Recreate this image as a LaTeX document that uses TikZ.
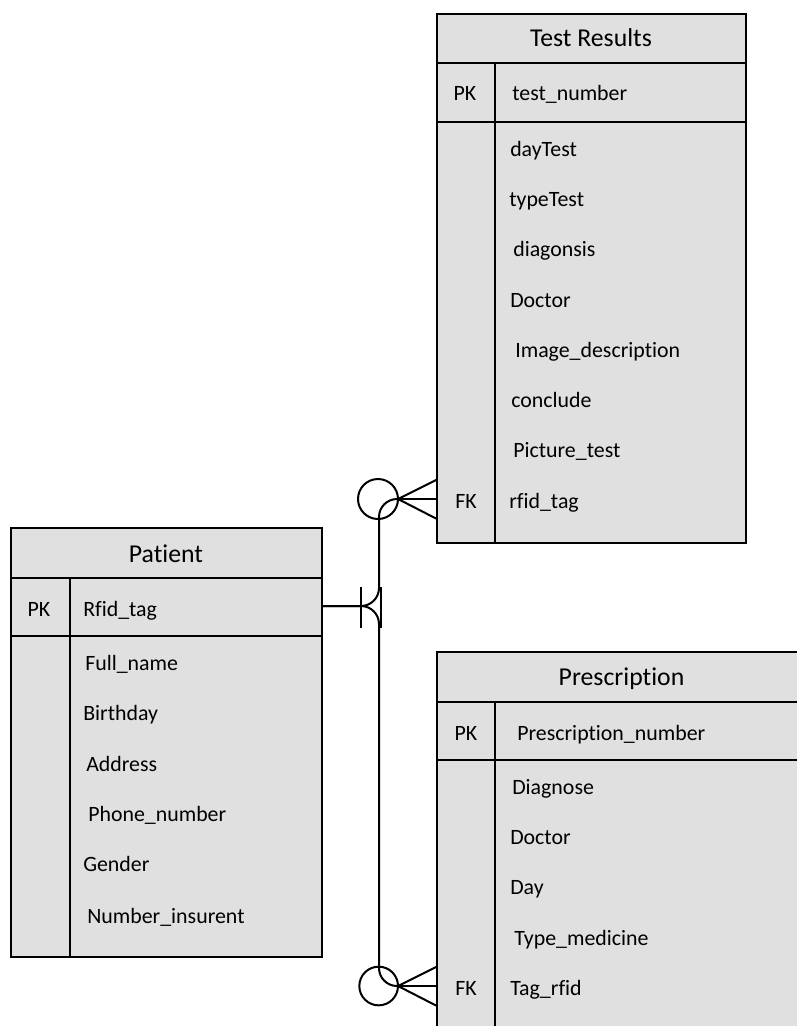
\documentclass[tikz,border=0pt]{standalone}
\usepackage{fontspec}
\setmainfont{Carlito}[Ligatures={NoCommon}]
\usetikzlibrary{fit}
\definecolor{tblfill}{RGB}{224,224,224}
\newcommand{\titlefont}{\fontsize{19.3}{23}\selectfont}
\newcommand{\attrfont}{\fontsize{16.4}{20}\selectfont}

\begin{document}
\begin{tikzpicture}[x=0.75pt, y=-0.75pt,
  tbl/.style={draw, fill=tblfill, line width=1.5pt, inner sep=0pt, outer sep=0pt},
  rule/.style={line width=1.5pt},
  ttl/.style={font=\titlefont, anchor=base, inner sep=0pt},
  keytag/.style={font=\attrfont, anchor=base, inner sep=0pt},
  attr/.style={font=\attrfont, anchor=base west, inner sep=0pt},
  rel/.style={line width=1.5pt, line join=round},
]
\useasboundingbox (0,0) rectangle (797,1026);
\clip (0,0) rectangle (797,1026);

% ---------- Test Results ----------
\node[tbl, fit={(437,14) (746,543)}] (tr) {};
\draw[rule] (437,63) -- (746,63);
\draw[rule] (437,121.5) -- (746,121.5);
\draw[rule] (495,63) -- (495,543);
\node[ttl] (tr-title) at (591,46) {Test Results};
\node[keytag] (tr-pk) at (465,100.5) {PK};
\node[attr] (tr-a0) at (512,100.5) {test\_number};
\node[attr] (tr-a1) at (510,156.5) {dayTest};
\node[attr] (tr-a2) at (509,206.5) {typeTest};
\node[attr] (tr-a3) at (513,256.5) {diagonsis};
\node[attr] (tr-a4) at (510,307) {Doctor};
\node[attr] (tr-a5) at (515,357) {Image\_description};
\node[attr] (tr-a6) at (511,407) {conclude};
\node[attr] (tr-a7) at (513,457.5) {Picture\_test};
\node[keytag] (tr-fk) at (466,508) {FK};
\node[attr] (tr-a8) at (509,508) {rfid\_tag};

% ---------- Patient ----------
\node[tbl, fit={(11,528) (321.5,957)}] (pat) {};
\draw[rule] (11,578) -- (321.5,578);
\draw[rule] (11,636) -- (321.5,636);
\draw[rule] (70,578) -- (70,957);
\node[ttl] (pat-title) at (166,562.7) {Patient};
\node[keytag] (pat-pk) at (39,616.7) {PK};
\node[attr] (pat-a0) at (83,616.7) {Rfid\_tag};
\node[attr] (pat-a1) at (85,670.7) {Full\_name};
\node[attr] (pat-a2) at (83,720.7) {Birthday};
\node[attr] (pat-a3) at (86,771.7) {Address};
\node[attr] (pat-a4) at (88,821.7) {Phone\_number};
\node[attr] (pat-a5) at (83,871.7) {Gender};
\node[attr] (pat-a6) at (87,923.3) {Number\_insurent};

% ---------- Prescription ----------
\node[tbl, fit={(437,652) (805,1040)}] (pr) {};
\draw[rule] (437,702) -- (805,702);
\draw[rule] (437,760) -- (805,760);
\draw[rule] (495,702) -- (495,1040);
\node[ttl] (pr-title) at (621.5,685.7) {Prescription};
\node[keytag] (pr-pk) at (466,740) {PK};
\node[attr] (pr-a0) at (517,740) {Prescription\_number};
\node[attr] (pr-a1) at (512,794) {Diagnose};
\node[attr] (pr-a2) at (510,844.5) {Doctor};
\node[attr] (pr-a3) at (510,894.5) {Day};
\node[attr] (pr-a4) at (514,945) {Type\_medicine};
\node[keytag] (pr-fk) at (466,995) {FK};
\node[attr] (pr-a5) at (510,995) {Tag\_rfid};

% ---------- relationships ----------
\coordinate (trunk) at (379,0);
\coordinate (pat-link) at (pat.east |- 0,606);
\coordinate (ft) at (398,499);
\coordinate (fb) at (398,986);

% Patient -> Test Results
\draw[rel, rounded corners=13.5pt] (pat-link) -| (trunk |- ft) -- (ft);
% Patient -> Prescription
\draw[rel, rounded corners=13.5pt] (pat-link) -| (trunk |- fb) -- (fb);

% one and only one (Patient side)
\draw[rel] (361,587) -- (361,628);
\draw[rel] (381,587) -- (381,628);

% zero or many (Test Results side)
\draw[rel] (tr.west |- 0,479.5) -- (ft) -- (tr.west |- 0,519);
\draw[rel] (ft) -- (tr.west |- ft);
\draw[rel] ([xshift=-15pt]ft) circle[radius=15pt];

% zero or many (Prescription side)
\draw[rel] (pr.west |- 0,966.5) -- (fb) -- (pr.west |- 0,1006);
\draw[rel] (fb) -- (pr.west |- fb);
\draw[rel] ([xshift=-14.5pt]fb) circle[radius=14.5pt];
\end{tikzpicture}
\end{document}
